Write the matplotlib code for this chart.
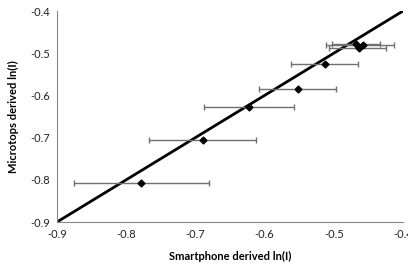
import matplotlib
matplotlib.use("Agg")
import matplotlib.pyplot as plt
import numpy as np

plt.rcParams['font.family'] = ['Lato', 'DejaVu Sans']
plt.rcParams['axes.unicode_minus'] = False

# smartphone derived ln(I) (x), its error range, microtops ln(I) (y)
smartphone = [-0.779, -0.689, -0.6225, -0.5517, -0.5127, -0.468, -0.458, -0.4636]
micro = [-0.807, -0.7057, -0.6275, -0.585, -0.5256, -0.478, -0.481, -0.4877]
err_lo = [-0.876, -0.767, -0.688, -0.608, -0.562, -0.502, -0.511, -0.507]
err_hi = [-0.680, -0.612, -0.5575, -0.497, -0.465, -0.433, -0.413, -0.424]
one_to_one = [-0.9, -0.4]

x = np.array(smartphone)
xerr = [x - np.array(err_lo), np.array(err_hi) - x]

fig = plt.figure(figsize=(4.08, 2.75), dpi=100)
ax = fig.add_axes([0.1397, 0.1927, 0.848, 0.7673])

ax.plot(one_to_one, one_to_one, color='black', linewidth=2, zorder=2)
ax.errorbar(x, micro, xerr=xerr, fmt='D', color='black', markersize=3.5,
            ecolor='#707070', elinewidth=1, capsize=2.5, capthick=1, zorder=3)

ax.set_xlim(-0.9, -0.4)
ax.set_ylim(-0.9, -0.4)
ax.set_xticks(np.arange(-0.9, -0.39, 0.1))
ax.set_yticks(np.arange(-0.9, -0.39, 0.1))
ax.xaxis.set_ticklabels(['-0.9', '-0.8', '-0.7', '-0.6', '-0.5', '-0.4'])
ax.yaxis.set_ticklabels(['-0.9', '-0.8', '-0.7', '-0.6', '-0.5', '-0.4'])
ax.tick_params(length=0, labelsize=8, pad=5, colors='#222222')
for s in ['top', 'right']:
    ax.spines[s].set_visible(False)
for s in ['left', 'bottom']:
    ax.spines[s].set_color('#888888')
    ax.spines[s].set_linewidth(0.8)
ax.set_xlabel("Smartphone derived ln(I)", fontsize=8, fontweight='bold', labelpad=8)
ax.set_ylabel("Microtops derived ln(I)", fontsize=8, fontweight='bold', labelpad=8)

plt.savefig("out.png", dpi=100)
